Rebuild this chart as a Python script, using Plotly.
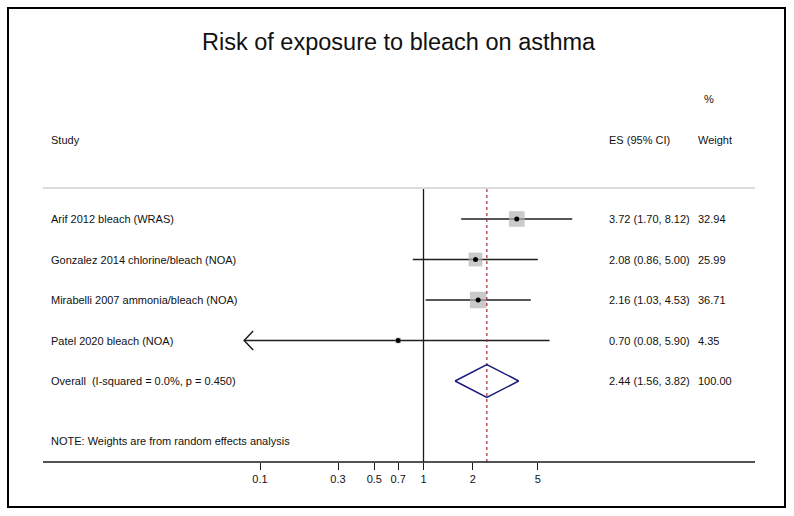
import numpy as np
import plotly.graph_objects as go

# ---- data ----
studies = ["Arif 2012 bleach (WRAS)",
           "Gonzalez 2014 chlorine/bleach (NOA)",
           "Mirabelli 2007 ammonia/bleach (NOA)",
           "Patel 2020 bleach (NOA)"]
es = [3.72, 2.08, 2.16, 0.70]
lo = [1.70, 0.86, 1.03, 0.08]
hi = [8.12, 5.00, 4.53, 5.90]
weights = [32.94, 25.99, 36.71, 4.35]
overall_label = "Overall\u00a0\u00a0(I-squared = 0.0%, p = 0.450)"
overall_es, overall_lo, overall_hi, overall_w = 2.44, 1.56, 3.82, 100.00
tick_vals = [0.1, 0.3, 0.5, 0.7, 1, 2, 5]
tick_text = ["0.1", "0.3", "0.5", "0.7", "1", "2", "5"]
title = "Risk of exposure to bleach on asthma"
note = "NOTE: Weights are from random effects analysis"

# ---- geometry (pixels) ----
W, H = 794, 516
PX_PER_DEC = 163.5
X_ONE = 423.5           # pixel of x = 1
ROW0 = 219.0            # pixel of first row
ROW_H = 40.5
PLOT_BOTTOM = 462.0
AX_L, AX_R = 43, 755
FONT = "Liberation Sans, Arial, Helvetica, sans-serif"

def px2row(p):
    return (p - ROW0) / ROW_H

def px2paper_x(p):
    return p / W

def px2paper_y(p):
    return (PLOT_BOTTOM - p) / PLOT_BOTTOM

x_range = [(0 - X_ONE) / PX_PER_DEC, (W - X_ONE) / PX_PER_DEC]
y_range = [px2row(PLOT_BOTTOM), px2row(0)]

n = len(studies)
rows = list(range(n))
overall_row = n

fig = go.Figure()

# CI lines
cx, cy = [], []
for i in rows:
    cx += [lo[i], hi[i], None]
    cy += [i, i, None]
fig.add_trace(go.Scatter(x=cx, y=cy, mode="lines",
                         line=dict(color="#1e1e1e", width=1.5),
                         hoverinfo="skip", showlegend=False))

# Arrow (open chevron) for CI truncated at left edge (Patel)
arr_i = int(np.argmin(lo))
tip = lo[arr_i]
dx = 10 ** (9 / PX_PER_DEC)
dy = 9.5 / ROW_H
ax_ = [tip * dx, tip, tip * dx]
ay_ = [arr_i - dy, arr_i, arr_i + dy]
fig.add_trace(go.Scatter(x=ax_, y=ay_, mode="lines",
                         line=dict(color="#1e1e1e", width=1.5),
                         hoverinfo="skip", showlegend=False))

# weight squares
sizes = [2.72 * np.sqrt(w) for w in weights]
fig.add_trace(go.Scatter(x=es, y=rows, mode="markers",
                         marker=dict(symbol="square", size=sizes, color="#b4b4b4",
                                     line=dict(width=0)),
                         hoverinfo="skip", showlegend=False))

# null line at 1
top_row = px2row(189)
fig.add_trace(go.Scatter(x=[1, 1], y=[top_row, y_range[0]], mode="lines",
                         line=dict(color="#1a1a1a", width=1.3),
                         hoverinfo="skip", showlegend=False))

# overall dashed line
fig.add_trace(go.Scatter(x=[overall_es, overall_es], y=[top_row, y_range[0]], mode="lines",
                         line=dict(color="#a32a3a", width=1.2, dash="3px,3px"),
                         hoverinfo="skip", showlegend=False))

# point estimates
fig.add_trace(go.Scatter(x=es, y=rows, mode="markers",
                         marker=dict(symbol="circle", size=5, color="#000000"),
                         hoverinfo="skip", showlegend=False))

# overall diamond
h = 16.5 / ROW_H
fig.add_trace(go.Scatter(x=[overall_lo, overall_es, overall_hi, overall_es, overall_lo],
                         y=[overall_row, overall_row - h, overall_row, overall_row + h, overall_row],
                         mode="lines", line=dict(color="#1c1c7a", width=1.5),
                         hoverinfo="skip", showlegend=False))

ann = []
def txt(text, px, row, size=11, anchor="left"):
    ann.append(dict(text=text, x=px2paper_x(px), xref="paper", y=row, yref="y",
                    xanchor=anchor, yanchor="middle", showarrow=False,
                    font=dict(family=FONT, size=size, color="#111111")))

txt(title, W / 2 + 2, px2row(42), size=23.5, anchor="center")
txt("%", 702, px2row(99))
txt("Study", 49, px2row(140))
txt("ES (95% CI)", 607, px2row(140))
txt("Weight", 696, px2row(140))
for i in rows:
    txt(studies[i], 49, i)
    txt(f"{es[i]:.2f} ({lo[i]:.2f}, {hi[i]:.2f})", 607, i)
    txt(f"{weights[i]:.2f}", 696, i)
txt(overall_label, 49, overall_row)
txt(f"{overall_es:.2f} ({overall_lo:.2f}, {overall_hi:.2f})", 607, overall_row)
txt(f"{overall_w:.2f}", 696, overall_row)
txt(note, 49, px2row(441))

shapes = [
    # gray separator
    dict(type="line", xref="paper", yref="paper",
         x0=px2paper_x(AX_L), x1=px2paper_x(AX_R),
         y0=px2paper_y(188), y1=px2paper_y(188),
         line=dict(color="#cfcfcf", width=1.5)),
    # x axis line
    dict(type="line", xref="paper", yref="paper",
         x0=px2paper_x(AX_L), x1=px2paper_x(AX_R),
         y0=0, y1=0, line=dict(color="#1a1a1a", width=1.3)),
    # outer frame
    dict(type="rect", xref="paper", yref="paper",
         x0=px2paper_x(8), x1=px2paper_x(785),
         y0=px2paper_y(507), y1=px2paper_y(8),
         line=dict(color="#000000", width=2)),
]

fig.update_layout(
    width=W, height=H,
    margin=dict(l=0, r=0, t=0, b=H - PLOT_BOTTOM, pad=0),
    paper_bgcolor="white", plot_bgcolor="white",
    showlegend=False,
    annotations=ann, shapes=shapes,
    xaxis=dict(type="log", range=x_range, tickvals=tick_vals, ticktext=tick_text,
               ticks="outside", ticklen=7, tickwidth=1.2, tickcolor="#1a1a1a",
               showgrid=False, zeroline=False, showline=False,
               tickfont=dict(family=FONT, size=11, color="#111111"),
               fixedrange=True),
    yaxis=dict(range=y_range, visible=False, showgrid=False, zeroline=False,
               fixedrange=True),
)

fig.write_html("out.html", config={"displayModeBar": False},
               post_script="document.body.style.margin='0';document.body.style.padding='0';")
